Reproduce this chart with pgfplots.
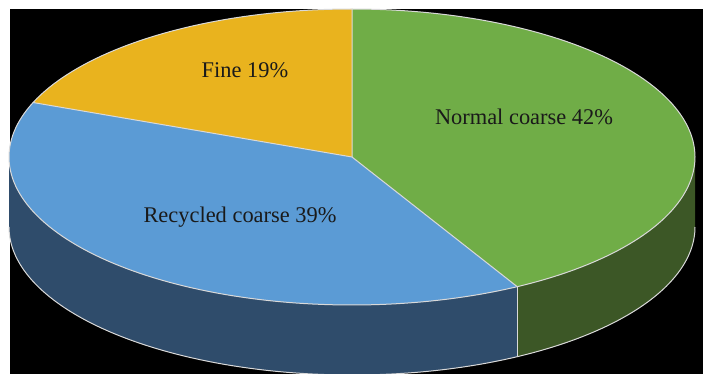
\documentclass[border=0pt]{standalone}
\usepackage{pgfplots}
\pgfplotsset{compat=1.18}
\usepgfplotslibrary{fillbetween}
\usepackage{fontspec}
\setmainfont{Liberation Serif}
\definecolor{cgreen}{HTML}{70AD47}
\definecolor{gside}{HTML}{3C5726}
\definecolor{cblue}{HTML}{5B9BD5}
\definecolor{bside}{HTML}{2F4C6B}
\definecolor{cgold}{HTML}{E9B31E}
\definecolor{edge}{HTML}{D9D9D9}
\definecolor{txt}{HTML}{1A1A1A}
% data (percent)
\def\pNormal{42}\def\pRec{39}\def\pFine{19}
% geometry (px)
\def\cx{352}\def\cy{217}\def\rx{343}\def\ry{148}\def\dep{70}
\pgfmathsetmacro\aA{90-\pNormal*3.6}
\pgfmathsetmacro\aAp{\aA+360}
\pgfmathsetmacro\aB{\aAp-\pRec*3.6}
\pgfmathsetmacro\xA{\cx+\rx*cos(\aA)}
\pgfmathsetmacro\yA{\cy+\ry*sin(\aA)}
\pgfmathsetmacro\yAd{\yA-\dep}
\pgfmathsetmacro\xB{\cx+\rx*cos(\aB)}
\pgfmathsetmacro\yB{\cy+\ry*sin(\aB)}
\pgfmathsetmacro\yT{\cy+\ry}
\begin{document}
\begin{tikzpicture}
\begin{axis}[width=703bp,height=374bp,scale only axis,set layers,
  xmin=0,xmax=703,ymin=0,ymax=374,hide axis,clip=true]
\addplot[fill=white,draw=none,on layer=axis background] coordinates {(0,0)(703,0)(703,374)(0,374)};
\addplot[fill=black,draw=none,on layer=axis background] coordinates {(10,0)(703,0)(703,365)(10,365)};
% side faces
\addplot[draw=none,name path=rt,domain=180:\aAp,samples=80] ({\cx+\rx*cos(x)},{\cy+\ry*sin(x)});
\addplot[draw=none,name path=rb,domain=180:\aAp,samples=80] ({\cx+\rx*cos(x)},{\cy-\dep+\ry*sin(x)});
\addplot[fill=bside,draw=none] fill between[of=rt and rb];
\addplot[draw=none,name path=nt,domain=\aAp:360,samples=40] ({\cx+\rx*cos(x)},{\cy+\ry*sin(x)});
\addplot[draw=none,name path=nb,domain=\aAp:360,samples=40] ({\cx+\rx*cos(x)},{\cy-\dep+\ry*sin(x)});
\addplot[fill=gside,draw=none] fill between[of=nt and nb];
% top sectors
\addplot[draw=none,name path=sN,domain=\aA:90,samples=120] ({\cx+\rx*cos(x)},{\cy+\ry*sin(x)});
\addplot[draw=none,name path=cN] coordinates {(\xA,\yA)(\cx,\cy)(\cx,\yT)};
\addplot[fill=cgreen,draw=none] fill between[of=sN and cN];
\addplot[draw=none,name path=sR,domain=\aB:\aAp,samples=120] ({\cx+\rx*cos(x)},{\cy+\ry*sin(x)});
\addplot[draw=none,name path=cR] coordinates {(\xB,\yB)(\cx,\cy)(\xA,\yA)};
\addplot[fill=cblue,draw=none] fill between[of=sR and cR];
\addplot[draw=none,name path=sF,domain=90:\aB,samples=80] ({\cx+\rx*cos(x)},{\cy+\ry*sin(x)});
\addplot[draw=none,name path=cF] coordinates {(\cx,\yT)(\cx,\cy)(\xB,\yB)};
\addplot[fill=cgold,draw=none] fill between[of=sF and cF];
% edges
\addplot[edge,line width=1bp,domain=0:360,samples=240] ({\cx+\rx*cos(x)},{\cy+\ry*sin(x)});
\addplot[edge,line width=1bp,domain=180:360,samples=160] ({\cx+\rx*cos(x)},{\cy-\dep+\ry*sin(x)});
\addplot[edge,line width=1bp] coordinates {(\xA,\yA)(\cx,\cy)(\cx,\yT)};
\addplot[edge,line width=1bp] coordinates {(\cx,\cy)(\xB,\yB)};
\addplot[edge,line width=1bp] coordinates {(\xA,\yA)(\xA,\yAd)};
% labels
\node[txt,font=\fontsize{22.5}{26}\selectfont] at (axis cs:245,304) {Fine 19\%};
\node[txt,font=\fontsize{22.5}{26}\selectfont] at (axis cs:524,257) {Normal coarse 42\%};
\node[txt,font=\fontsize{22.5}{26}\selectfont] at (axis cs:240,157) {Recycled coarse 39\%};
\end{axis}
\pgfresetboundingbox
\path (current axis.south west) rectangle (current axis.north east);
\end{tikzpicture}
\end{document}
